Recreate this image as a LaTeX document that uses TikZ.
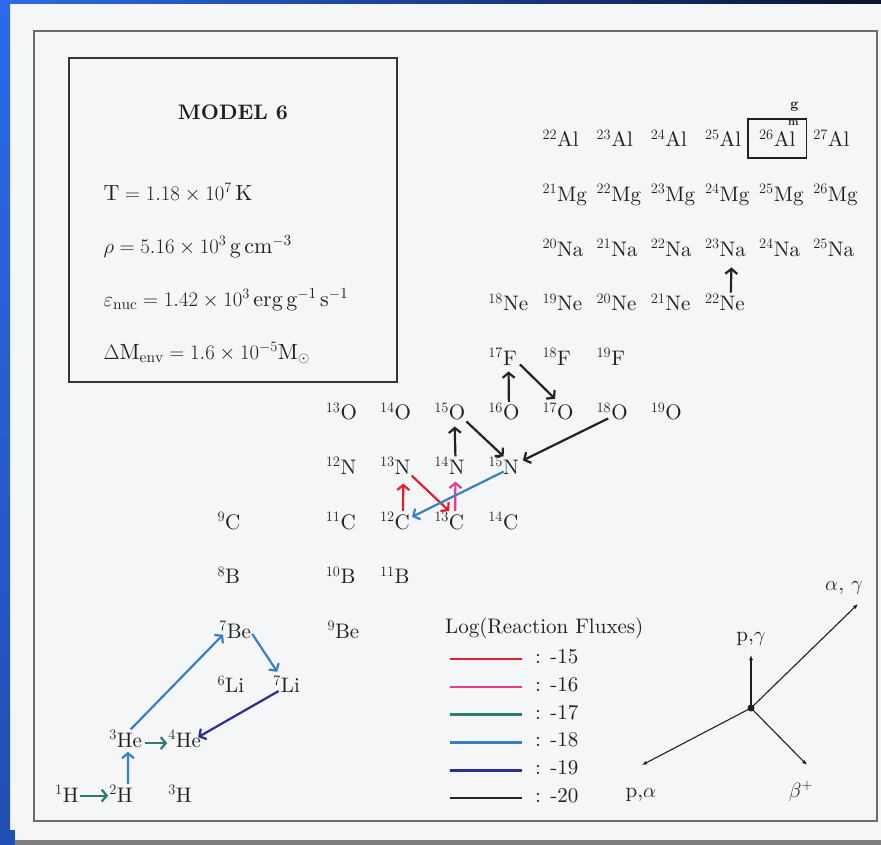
\documentclass[tikz,border=0pt]{standalone}
\usepackage{amsmath, amssymb}
\usepackage{fontspec}
\setmainfont{lmroman10-regular.otf}[BoldFont=lmroman10-bold.otf, ItalicFont=lmroman10-italic.otf]
\usepackage{xcolor}
\usepackage{tikz}
\usetikzlibrary{arrows.meta, positioning, fit, calc}
\definecolor{fluxred}{HTML}{E3202A}
\definecolor{fluxpink}{HTML}{EA3C88}
\definecolor{fluxteal}{HTML}{2B7B73}
\definecolor{fluxblue}{HTML}{3A7EC3}
\definecolor{fluxindigo}{HTML}{2B2C98}
\definecolor{fluxblack}{HTML}{2A201D}
\definecolor{paperbg}{HTML}{F4F6F8}
\definecolor{paperframe}{HTML}{6C6C6C}
\definecolor{paperink}{HTML}{202020}
\definecolor{slideblue}{HTML}{2B6AEC}
\definecolor{slidenavy}{HTML}{0A1230}
\definecolor{slidegray}{HTML}{7E7E7E}

\begin{document}
\begin{tikzpicture}[
  x=1pt, y=-1pt,
  font=\fontsize{21}{25}\selectfont,
  text=paperink,
  nuc/.style={anchor=base west, inner sep=1pt},
  modelbox/.style={draw=paperink!90, line width=1.4pt, inner sep=0pt},
  modelline/.style={anchor=base west, inner sep=0pt, font=\fontsize{22}{26}\selectfont},
  alframe/.style={draw=paperink, line width=1.8pt, inner xsep=10pt, inner ysep=10pt},
  scribble/.style={font=\fontsize{14}{14}\selectfont\bfseries, inner sep=0pt},
  flux/.style={line width=2.2pt, -{Straight Barb[length=5pt,width=12pt]}},
  redflux/.style={flux, draw=fluxred},
  pinkflux/.style={flux, draw=fluxpink},
  tealflux/.style={flux, draw=fluxteal},
  blueflux/.style={flux, draw=fluxblue},
  indigoflux/.style={flux, draw=fluxindigo},
  blackflux/.style={flux, draw=fluxblack},
  legline/.style={line width=2.6pt},
  legtext/.style={anchor=base west, inner sep=0pt},
  guide/.style={line width=1.1pt, draw=paperink, -{Latex[length=5pt,width=4pt]}},
  chan/.style={anchor=base, inner sep=1pt}
]
\useasboundingbox (0,0) rectangle (881,845);

% slide background and paper
\fill[paperbg] (0,0) rectangle (881,845);
\shade[top color=slideblue, bottom color=slideblue!75!black] (0,0) rectangle (10,845);
\shade[left color=slideblue, right color=slidenavy] (0,0) rectangle (881,4);
\fill[slidegray] (0,840) rectangle (881,845);
\fill[slideblue!75!black] (0,830) rectangle (15,845);
\draw[paperframe, line width=1.4pt] (34,31) rectangle (877,821);

% model parameters
\node[modelbox, minimum width=328pt, minimum height=324pt] (model) at (233,220) {};
\node[anchor=base, inner sep=0pt, font=\fontsize{21}{25}\selectfont\bfseries] (modeltitle)
  at ([yshift=-62pt]model.north) {MODEL 6};
\node[modelline] (temp) at ([shift={(35pt,-143pt)}]model.north west)
  {$\mathrm{T} = 1.18\times10^{7}\,\mathrm{K}$};
\node[modelline] (dens) at ([yshift=-53pt]temp.base west)
  {$\rho = 5.16\times10^{3}\,\mathrm{g\,cm^{-3}}$};
\node[modelline] (enuc) at ([yshift=-53pt]dens.base west)
  {$\varepsilon_{\mathrm{nuc}} = 1.42\times10^{3}\,\mathrm{erg\,g^{-1}\,s^{-1}}$};
\node[modelline] (menv) at ([yshift=-53pt]enuc.base west)
  {$\Delta\mathrm{M}_{\mathrm{env}} = 1.6\times10^{-5}\mathrm{M}_{\odot}$};

% nuclide chart: x = neutron number, y = Z-1
\begin{scope}[shift={(54pt,-802pt)}, x=54.15pt, y=54.6pt]
\node[nuc] (h1) at (0,0) {$^{1}$H};
\node[nuc] (h2) at (1,0) {$^{2}$H};
\node[nuc] (h3) at (2.09,0) {$^{3}$H};
\node[nuc] (he3) at (1,1) {$^{3}$He};
\node[nuc] (he4) at (2.09,1) {$^{4}$He};
\node[nuc] (li6) at (3,2) {$^{6}$Li};
\node[nuc] (li7) at (4.03,2) {$^{7}$Li};
\node[nuc] (be7) at (3.03,3) {$^{7}$Be};
\node[nuc] (be9) at (5.03,3) {$^{9}$Be};
\node[nuc] (b8) at (3,4) {$^{8}$B};
\node[nuc] (b10) at (5,4) {$^{10}$B};
\node[nuc] (b11) at (6,4) {$^{11}$B};
\node[nuc] (c9) at (3,5) {$^{9}$C};
\node[nuc] (c11) at (5,5) {$^{11}$C};
\node[nuc] (c12) at (6,5) {$^{12}$C};
\node[nuc] (c13) at (7,5) {$^{13}$C};
\node[nuc] (c14) at (8,5) {$^{14}$C};
\node[nuc] (n12) at (5,6) {$^{12}$N};
\node[nuc] (n13) at (6,6) {$^{13}$N};
\node[nuc] (n14) at (7,6) {$^{14}$N};
\node[nuc] (n15) at (8,6) {$^{15}$N};
\node[nuc] (o13) at (5,7) {$^{13}$O};
\node[nuc] (o14) at (6,7) {$^{14}$O};
\node[nuc] (o15) at (7,7) {$^{15}$O};
\node[nuc] (o16) at (8,7) {$^{16}$O};
\node[nuc] (o17) at (9,7) {$^{17}$O};
\node[nuc] (o18) at (10,7) {$^{18}$O};
\node[nuc] (o19) at (11,7) {$^{19}$O};
\node[nuc] (f17) at (8,8) {$^{17}$F};
\node[nuc] (f18) at (9,8) {$^{18}$F};
\node[nuc] (f19) at (10,8) {$^{19}$F};
\node[nuc] (ne18) at (8,9) {$^{18}$Ne};
\node[nuc] (ne19) at (9,9) {$^{19}$Ne};
\node[nuc] (ne20) at (10,9) {$^{20}$Ne};
\node[nuc] (ne21) at (11,9) {$^{21}$Ne};
\node[nuc] (ne22) at (12,9) {$^{22}$Ne};
\node[nuc] (na20) at (9,10) {$^{20}$Na};
\node[nuc] (na21) at (10,10) {$^{21}$Na};
\node[nuc] (na22) at (11,10) {$^{22}$Na};
\node[nuc] (na23) at (12,10) {$^{23}$Na};
\node[nuc] (na24) at (13,10) {$^{24}$Na};
\node[nuc] (na25) at (14,10) {$^{25}$Na};
\node[nuc] (mg21) at (9,11) {$^{21}$Mg};
\node[nuc] (mg22) at (10,11) {$^{22}$Mg};
\node[nuc] (mg23) at (11,11) {$^{23}$Mg};
\node[nuc] (mg24) at (12,11) {$^{24}$Mg};
\node[nuc] (mg25) at (13,11) {$^{25}$Mg};
\node[nuc] (mg26) at (14,11) {$^{26}$Mg};
\node[nuc] (al22) at (9,12) {$^{22}$Al};
\node[nuc] (al23) at (10,12) {$^{23}$Al};
\node[nuc] (al24) at (11,12) {$^{24}$Al};
\node[nuc] (al25) at (12,12) {$^{25}$Al};
\node[nuc] (al26) at (13,12) {$^{26}$Al};
\node[nuc] (al27) at (14,12) {$^{27}$Al};
\end{scope}

\node[alframe, fit=(al26)] (al26box) {};
\node[scribble] (gmark) at ([shift={(-13pt,11pt)}]al26box.north east) {g};
\node[scribble, font=\fontsize{11}{11}\selectfont\bfseries] (mmark) at ([shift={(-14pt,-5pt)}]al26box.north east) {m};

% pp chains
\draw[tealflux] ([yshift=-2pt]h1.east) -- ([yshift=-2pt]h2.west);
\draw[blueflux] ([xshift=7pt]h2.north) -- ([shift={(2.3pt,-3pt)}]he3.south);
\draw[tealflux] ([shift={(2pt,-4pt)}]he3.east) -- ([yshift=-4pt]he4.west);
\draw[blueflux] ([xshift=5pt]he3.north) -- ([shift={(5pt,5pt)}]be7.south west);
\draw[blueflux] ([yshift=-4pt]be7.east) -- ([shift={(5pt,3pt)}]li7.north west);
\draw[indigoflux] ([shift={(-8pt,3pt)}]li7.south) -- ([shift={(-4pt,2pt)}]he4.east);

% CNO cycles
\draw[redflux] ([xshift=8pt]c12.north) -- ([shift={(8pt,-8pt)}]n13.south);
\draw[redflux] (n13.south east) -- (c13.north);
\draw[pinkflux] ([xshift=6pt]c13.north) -- ([shift={(6pt,-6pt)}]n14.south);
\draw[blackflux] ([xshift=6pt]n14.north) -- ([shift={(5pt,-5pt)}]o15.south);
\draw[blackflux] (o15.south east) -- (n15.north);
\draw[blueflux] ([yshift=4pt]n15.south) -- ([shift={(1pt,4pt)}]c12.east);
\draw[blackflux] ([shift={(-4pt,3pt)}]o18.south) -- ([shift={(3pt,-4pt)}]n15.north east);
\draw[blackflux] ([xshift=5pt]o16.north) -- ([shift={(6pt,-5pt)}]f17.south);
\draw[blackflux] ([shift={(2pt,2pt)}]f17.south east) -- ([shift={(-3pt,3pt)}]o17.north);
\draw[blackflux] ([xshift=6pt]ne22.north) -- ([shift={(6pt,-10pt)}]na23.south);

% flux legend
\node[legtext] (legtitle) at (445,633) {Log(Reaction Fluxes)};
\node[legtext] (lg15) at ([shift={(90pt,-30.5pt)}]legtitle.base west) {: -15};
\node[legtext] (lg16) at ([yshift=-27.8pt]lg15.base west) {: -16};
\node[legtext] (lg17) at ([yshift=-27.8pt]lg16.base west) {: -17};
\node[legtext] (lg18) at ([yshift=-27.8pt]lg17.base west) {: -18};
\node[legtext] (lg19) at ([yshift=-27.8pt]lg18.base west) {: -19};
\node[legtext] (lg20) at ([yshift=-27.8pt]lg19.base west) {: -20};
\draw[legline, fluxred] ([shift={(-85pt,4.5pt)}]lg15.base west) -- ([shift={(-13pt,4.5pt)}]lg15.base west);
\draw[legline, fluxpink] ([shift={(-85pt,4.5pt)}]lg16.base west) -- ([shift={(-13pt,4.5pt)}]lg16.base west);
\draw[legline, fluxteal] ([shift={(-85pt,4.5pt)}]lg17.base west) -- ([shift={(-13pt,4.5pt)}]lg17.base west);
\draw[legline, fluxblue] ([shift={(-85pt,4.5pt)}]lg18.base west) -- ([shift={(-13pt,4.5pt)}]lg18.base west);
\draw[legline, fluxindigo] ([shift={(-85pt,4.5pt)}]lg19.base west) -- ([shift={(-13pt,4.5pt)}]lg19.base west);
\draw[legline, fluxblack] ([shift={(-85pt,4.5pt)}]lg20.base west) -- ([shift={(-13pt,4.5pt)}]lg20.base west);

% reaction directions
\coordinate (hub) at (751,708);
\coordinate (pgtip) at ([yshift=53pt]hub);
\coordinate (agtip) at ([shift={(107pt,104pt)}]hub);
\coordinate (patip) at ([shift={(-109pt,-57pt)}]hub);
\coordinate (bptip) at ([shift={(56pt,-57pt)}]hub);
\draw[guide] (hub) -- (pgtip);
\draw[guide] (hub) -- (agtip);
\draw[guide] (hub) -- (patip);
\draw[guide] (hub) -- (bptip);
\fill[paperink] (hub) circle (3.5pt);
\node[chan] (pg) at ([yshift=8pt]pgtip) [above] {p,$\gamma$};
\node[chan] (ag) at (844,590) {$\alpha$, $\gamma$};
\node[chan] (pa) at (641,797) {p,$\alpha$};
\node[chan] (bp) at (801,797) {$\beta^{+}$};

\end{tikzpicture}
\end{document}
